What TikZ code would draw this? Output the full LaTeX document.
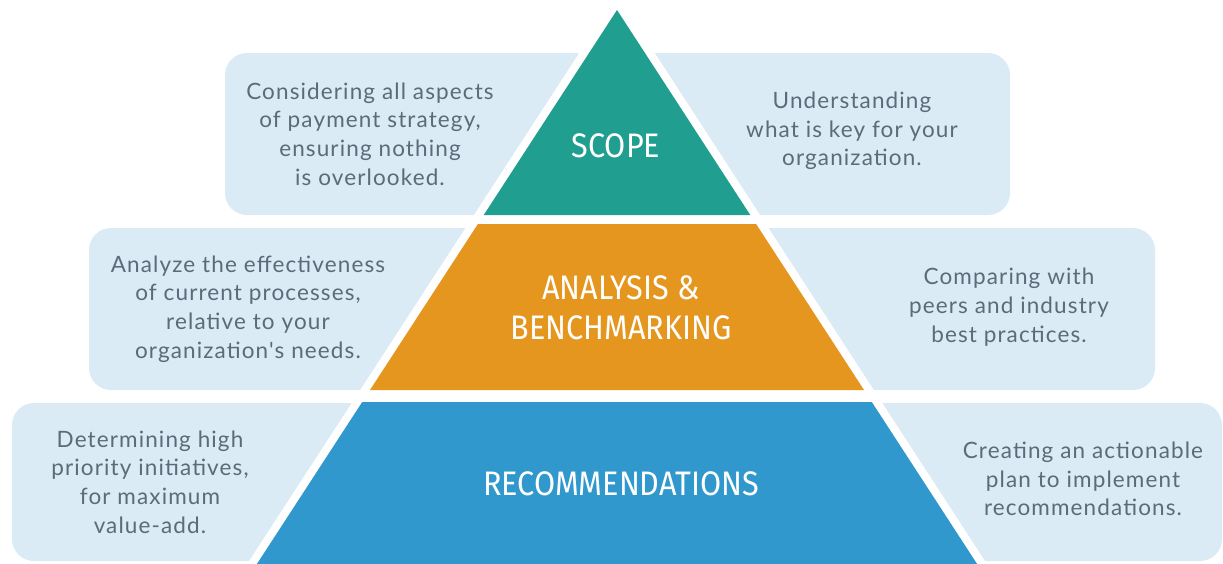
\documentclass[tikz,border=0pt]{standalone}
\usepackage{fontspec}
\setmainfont{Lato}
\newfontfamily\descfont[Ligatures=TeXOff,LetterSpace=5]{Lato}
\newfontfamily\titlefont[FakeStretch=0.9]{Fira Sans}
\definecolor{boxbg}{HTML}{DAEBF5}
\definecolor{txtgray}{HTML}{5B6B78}
\definecolor{tiertop}{HTML}{209E90}
\definecolor{tiermid}{HTML}{E5961E}
\definecolor{tierbot}{HTML}{3198CD}
\begin{document}
\begin{tikzpicture}[x=1pt,y=-1pt,
  sidebox/.style={fill=boxbg, rounded corners=22pt},
  desc/.style={text=txtgray, align=center, inner sep=0pt, font=\descfont\fontsize{22.5}{28.7}\selectfont},
  tiertitle/.style={text=white, align=center, inner sep=0pt, font=\titlefont\fontsize{34}{40}\selectfont}]
\useasboundingbox (0,0) rectangle (1223,563);
% side boxes
\fill[sidebox] (225,53) rectangle (1010,215);
\fill[sidebox] (89,228) rectangle (1155,390);
\fill[sidebox] (12,403) rectangle (1222,561);
% white halo of pyramid
\fill[white] (617,-5) -- ({617-0.65*575},570) -- ({617+0.65*575},570) -- cycle;
% tiers
\fill[tiertop] (617,10) -- ({617-0.65*205},215) -- ({617+0.65*205},215) -- cycle;
\fill[tiermid] ({617-0.65*214},224) -- ({617+0.65*214},224) -- ({617+0.65*380},390) -- ({617-0.65*380},390) -- cycle;
\fill[tierbot] ({617-0.65*392},402) -- ({617+0.65*392},402) -- ({617+0.65*555},565) -- ({617-0.65*555},565) -- cycle;
% titles
\node[tiertitle] (scope) at (616,146) {SCOPE};
\node[tiertitle] (analysis) at (621,308) {ANALYSIS \&\\BENCHMARKING};
\node[tiertitle] (recom) at (621,484) {RECOMMENDATIONS};
% descriptions
\node[desc] (tl) at (370,134) {Considering all aspects\\of payment strategy,\\ensuring nothing\\is overlooked.};
\node[desc] (tr) at (852,131) {Understanding\\what is key for your\\organization.};
\node[desc] (ml) at (248,309) {Analyze the effectiveness\\of current processes,\\relative to your\\organization's needs.};
\node[desc] (mr) at (1009,307) {Comparing with\\peers and industry\\best practices.};
\node[desc] (bl) at (150,482) {Determining high\\priority initiatives,\\for maximum\\value-add.};
\node[desc] (br) at (1083,479) {Creating an actionable\\plan to implement\\recommendations.};
\end{tikzpicture}
\end{document}
